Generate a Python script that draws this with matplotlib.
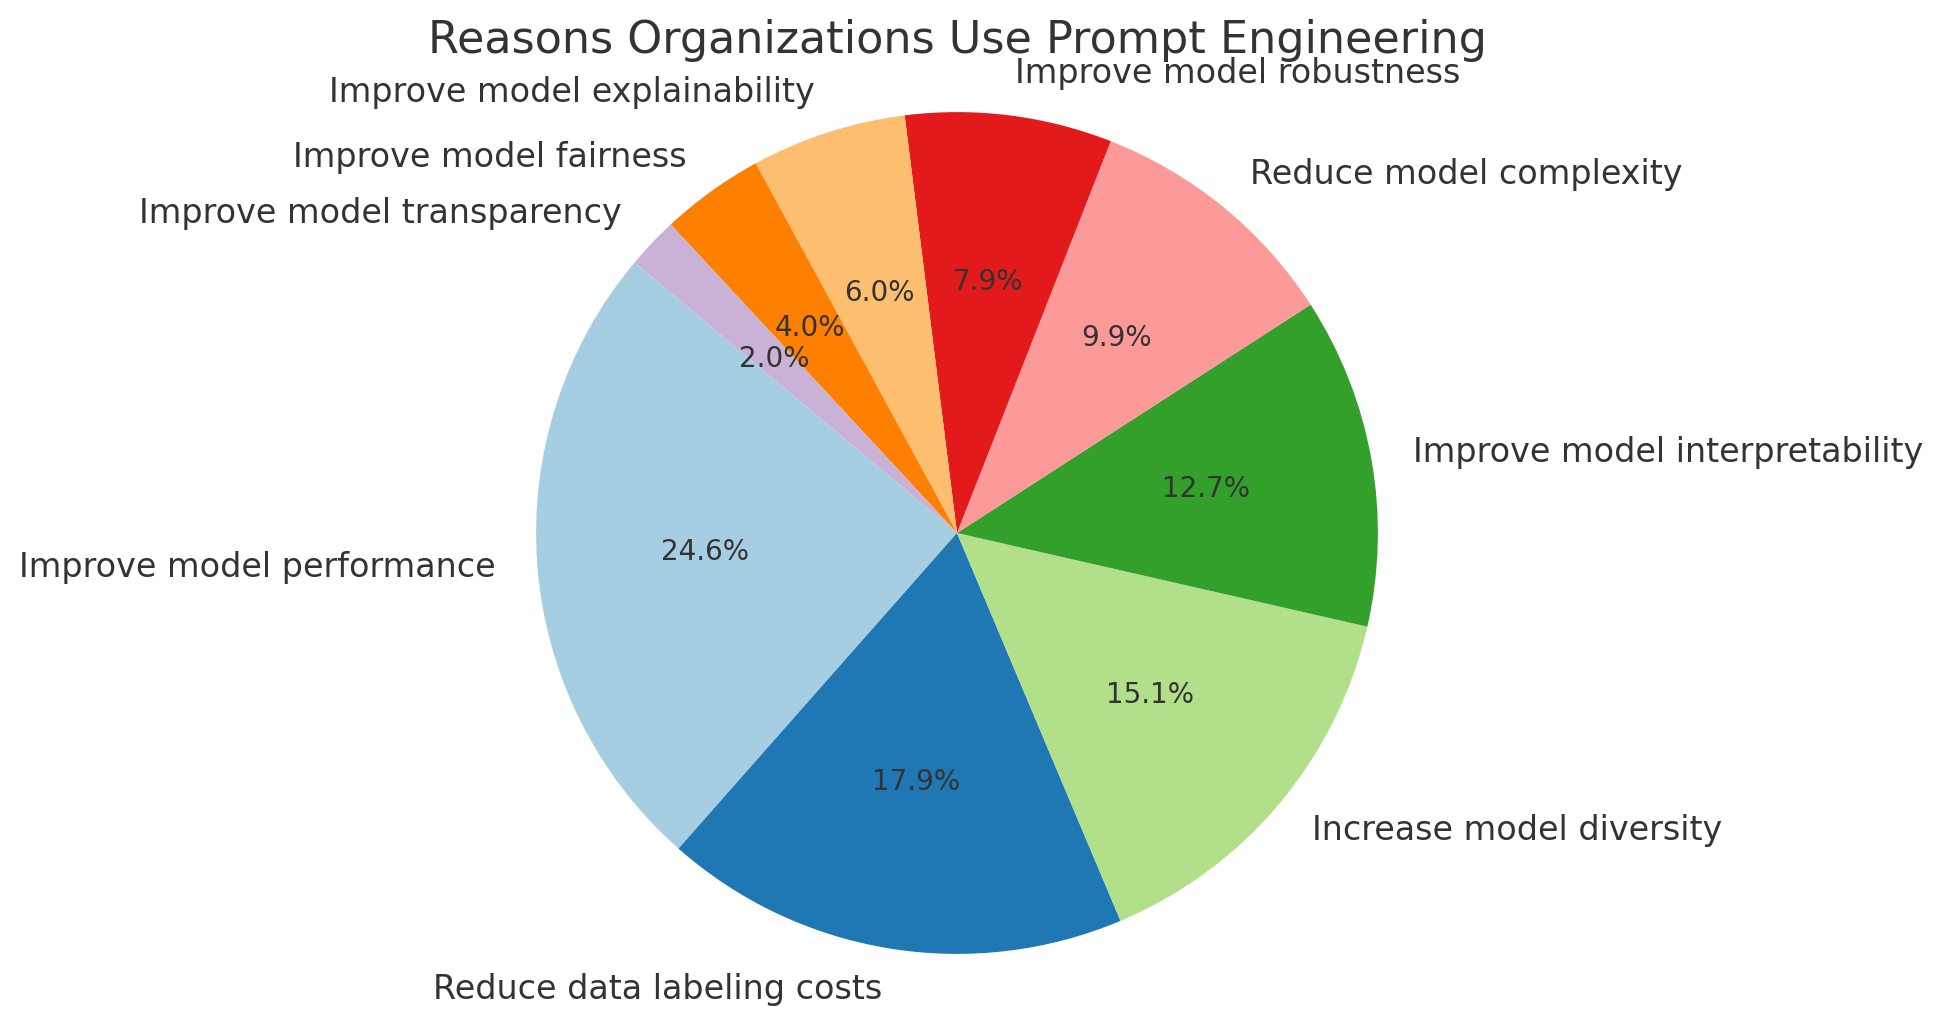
import numpy as np
import matplotlib.pyplot as plt

# Survey counts behind the pie (percentages as printed on the wedges)
reasons = [
    'Improve model performance',
    'Reduce data labeling costs',
    'Increase model diversity',
    'Improve model interpretability',
    'Reduce model complexity',
    'Improve model robustness',
    'Improve model explainability',
    'Improve model fairness',
    'Improve model transparency',
]
counts = [124, 90, 76, 64, 50, 40, 30, 20, 10]

TEXT = '#333333'
plt.rcParams.update({
    'font.family': 'DejaVu Sans',
    'text.color': TEXT,
})

fig = plt.figure(figsize=(9.71, 5.125), dpi=200)
W, H = 1942, 1025
cx, cy, half = 957, 1025 - 533, 463
ax = fig.add_axes([(cx - half) / W, (cy - half) / H, 2 * half / W, 2 * half / H])

colors = plt.cm.Paired(np.arange(len(counts)))
wedges, texts, autotexts = ax.pie(
    counts, labels=reasons, colors=colors, autopct='%1.1f%%',
    startangle=140, textprops={'fontsize': 12, 'color': TEXT},
)
for t in autotexts:
    t.set_fontsize(10)
    t.set_color(TEXT)

ax.set_xlim(-1.1, 1.1)
ax.set_ylim(-1.1, 1.1)
ax.set_aspect('equal')
ax.set_title('Reasons Organizations Use Prompt Engineering', fontsize=16,
             color=TEXT, pad=6)

fig.savefig('out.png', dpi=200)
